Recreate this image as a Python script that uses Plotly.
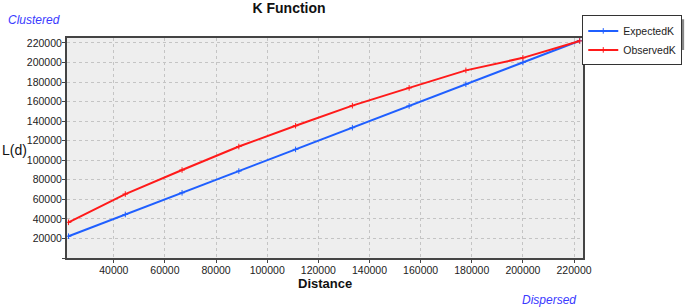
import plotly.graph_objects as go

distance = [22300, 44500, 66700, 88900, 111100, 133300, 155500, 177700, 200000, 222200]
expected_k = [22300, 44500, 66700, 88900, 111100, 133300, 155500, 177700, 200000, 222200]
observed_k = [36500, 65400, 90000, 114000, 135300, 155800, 174000, 191900, 204700, 222000]

y_ticks = list(range(0, 220001, 20000))
y_text = [""] + [str(v) for v in y_ticks[1:]]
x_ticks = list(range(40000, 220001, 20000))
x_text = [str(v) for v in x_ticks]

fig = go.Figure()
fig.add_trace(go.Scatter(x=distance, y=expected_k, name="ExpectedK", mode="lines+markers",
                         line=dict(color="#1f5fff", width=2),
                         marker=dict(symbol="cross-thin", size=4, line=dict(color="#1f5fff", width=1))))
fig.add_trace(go.Scatter(x=distance, y=observed_k, name="ObservedK", mode="lines+markers",
                         line=dict(color="#ff1a1a", width=2),
                         marker=dict(symbol="cross-thin", size=4, line=dict(color="#ff1a1a", width=1))))

font = "Liberation Sans, Arial, sans-serif"
fig.update_layout(
    width=685, height=308,
    margin=dict(l=67, r=102, t=38, b=50, autoexpand=False),
    paper_bgcolor="white", plot_bgcolor="#eeeeee",
    font=dict(family=font, size=10.5, color="#222222"),
    title=dict(text="<b>K Function</b>", x=0.422, xanchor="center", y=0.99, yanchor="top",
               font=dict(size=14, color="#111111")),
    showlegend=True,
    legend=dict(xref="container", yref="container", x=0.996, y=0.95, xanchor="right", yanchor="top",
                bgcolor="white", bordercolor="#333333", borderwidth=1, font=dict(size=10.5),
                tracegroupgap=0, itemwidth=30),
    xaxis=dict(range=[21700, 223500], tickvals=x_ticks, ticktext=x_text, ticks="outside", ticklen=3,
               tickcolor="#444444", showline=True, linecolor="#444444", linewidth=2,
               mirror=True, showgrid=True, gridcolor="#c4c4c4", griddash="dot",
               zeroline=False, tickfont=dict(size=10.5), ticklabelstandoff=-2),
    yaxis=dict(range=[0, 225000], tickvals=y_ticks, ticktext=y_text, ticks="outside", ticklen=3,
               tickcolor="#444444", showline=True, linecolor="#444444", linewidth=2,
               mirror=True, showgrid=True, gridcolor="#c4c4c4", griddash="dot",
               zeroline=False, tickfont=dict(size=10.5), ticklabelstandoff=-2),
)
fig.add_annotation(text="<b>Distance</b>", xref="paper", yref="paper", x=0.5, y=-0.118,
                   xanchor="center", yanchor="middle", showarrow=False,
                   font=dict(size=13, color="#111111"))
fig.add_annotation(text="L(d)", xref="paper", yref="paper", x=-0.102, y=0.49, xanchor="center",
                   yanchor="middle", showarrow=False, font=dict(size=14, color="#111111"))
fig.add_annotation(text="<i>Clustered</i>", xref="paper", yref="paper", x=-0.118, y=1.04,
                   xanchor="left", yanchor="bottom", showarrow=False,
                   font=dict(size=12, color="#3a3aff"))
fig.add_annotation(text="<i>Dispersed</i>", xref="paper", yref="paper", x=0.99, y=-0.15,
                   xanchor="right", yanchor="top", showarrow=False,
                   font=dict(size=12, color="#3a3aff"))
# legend shadow
fig.add_shape(type="rect", xref="paper", yref="paper", x0=1.006, x1=1.196, y0=0.945, y1=1.085,
              fillcolor="#888888", line=dict(width=0), layer="below")

fig.write_html("out.html", config={"displayModeBar": False},
               post_script="document.body.style.margin='0';")
